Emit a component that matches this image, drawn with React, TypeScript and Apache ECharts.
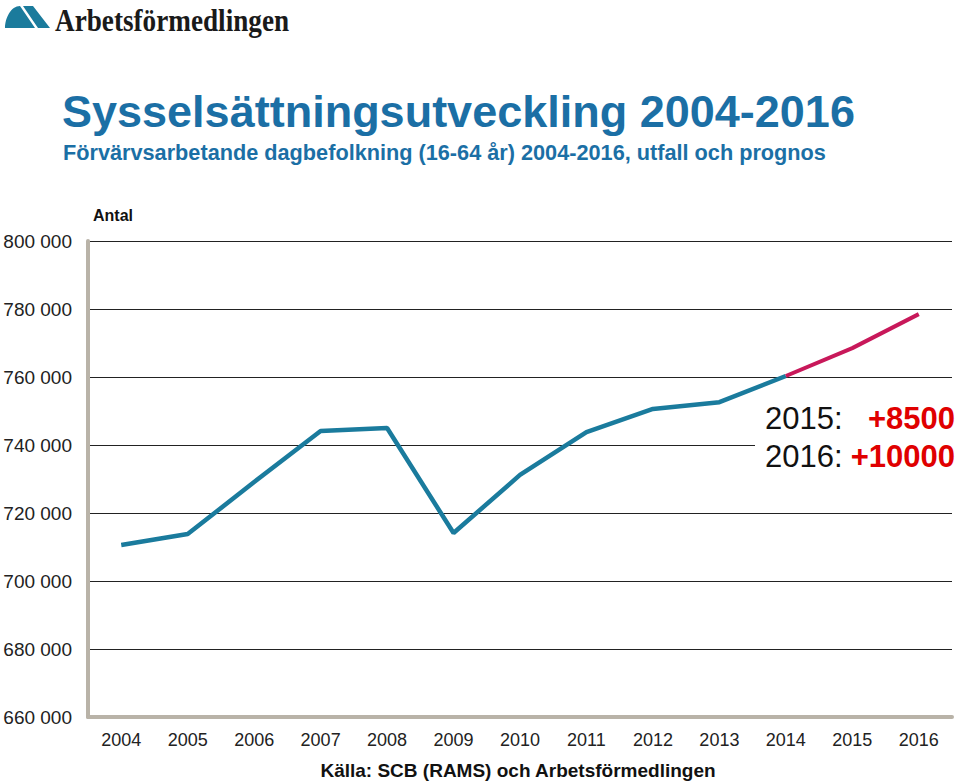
import React, { useEffect, useRef } from "react";
import * as echarts from "echarts";

const years = ["2004","2005","2006","2007","2008","2009","2010","2011","2012","2013","2014","2015","2016"];
const utfall = [710600, 713800, 729100, 744100, 745000, 714100, 731200, 743800, 750600, 752600, 760300, null, null];
const prognos = [null, null, null, null, null, null, null, null, null, null, 760300, 768500, 778500];
const annotYears = ["2015:", "2016:"];
const annotValues = ["+8500", "+10000"];

echarts.graphic.registerShape(
  "afLogo",
  echarts.graphic.extendPath(
    "M5,28 C5,18 11,6 20,6 L35,28 Z M23,6 L33,6 L50,28 L38,28 Z",
    {}
  )
);

export default function App() {
  const ref = useRef<HTMLDivElement>(null);
  useEffect(() => {
    const chart = echarts.init(ref.current!, null, { renderer: "svg" });
    const fmt = (v: number) => {
      const s = String(v);
      return s.slice(0, s.length - 3) + " " + s.slice(-3);
    };
    const sans = "'Liberation Sans', Arial, sans-serif";
    chart.setOption({
      animation: false,
      backgroundColor: "#ffffff",
      grid: { left: 88, right: 8, top: 241, bottom: 64, containLabel: false },
      xAxis: {
        type: "category",
        data: years,
        boundaryGap: true,
        axisLine: { show: true, lineStyle: { color: "#b9b3a8", width: 4 } },
        axisTick: { show: false },
        axisLabel: { color: "#222", fontSize: 18, fontFamily: "Liberation Sans, Arial", margin: 14 },
      },
      yAxis: {
        type: "value",
        min: 660000,
        max: 800000,
        interval: 20000,
        axisLine: { show: true, lineStyle: { color: "#b9b3a8", width: 4 } },
        axisTick: { show: false },
        splitLine: { show: true, lineStyle: { color: "#222", width: 1.2 } },
        axisLabel: {
          color: "#222",
          fontSize: 19,
          fontFamily: "Liberation Sans, Arial",
          margin: 16,
          formatter: (v: number) => fmt(v),
        },
      },
      series: [
        {
          type: "line",
          data: utfall,
          symbol: "none",
          lineStyle: { color: "#1a7b9d", width: 4.5 },
          z: 3,
        },
        {
          type: "line",
          data: prognos,
          symbol: "none",
          lineStyle: { color: "#c8185a", width: 4 },
          z: 4,
        },
      ],
      graphic: [
        { type: "afLogo", x: 0, y: 0, style: { fill: "#1b7b9c" } },
        {
          type: "text",
          x: 55,
          y: 4,
          scaleX: 0.85,
          style: {
            text: "Arbetsförmedlingen",
            font: "bold 32px 'Liberation Serif', 'DejaVu Serif', serif",
            fill: "#1a1a1a",
          },
        },
        {
          type: "text",
          left: 62,
          top: 89,
          style: {
            text: "Sysselsättningsutveckling 2004-2016",
            font: "bold 45px " + sans,
            fill: "#1b6fa5",
          },
        },
        {
          type: "text",
          left: 63,
          top: 141,
          style: {
            text: "Förvärvsarbetande dagbefolkning (16-64 år) 2004-2016, utfall och prognos",
            font: "bold 21.7px " + sans,
            fill: "#1b6fa5",
          },
        },
        {
          type: "text",
          left: 93,
          top: 207,
          style: {
            text: "Antal",
            font: "bold 16px " + sans,
            fill: "#111",
          },
        },
        {
          type: "rect",
          shape: { x: 755, y: 398, width: 205, height: 76 },
          style: { fill: "#ffffff" },
          z: 10,
        },
        ...annotYears.map((t, i) => ({
          type: "text",
          x: 765,
          y: 418 + i * 38,
          z: 11,
          style: {
            text: t,
            font: "31px " + sans,
            fill: "#111",
            verticalAlign: "middle",
            align: "left",
          },
        })),
        ...annotValues.map((t, i) => ({
          type: "text",
          x: 955,
          y: 418 + i * 38,
          z: 11,
          style: {
            text: t,
            font: "bold 31px " + sans,
            fill: "#e00000",
            verticalAlign: "middle",
            align: "right",
          },
        })),
        {
          type: "text",
          x: 518,
          y: 770,
          style: {
            text: "Källa: SCB (RAMS) och Arbetsförmedlingen",
            font: "bold 19px " + sans,
            fill: "#111",
            align: "center",
            verticalAlign: "middle",
          },
        },
      ],
    });
    return () => chart.dispose();
  }, []);
  return (
    <div
      ref={ref}
      style={{ position: "fixed", left: 0, top: 0, width: 960, height: 781 }}
    />
  );
}
